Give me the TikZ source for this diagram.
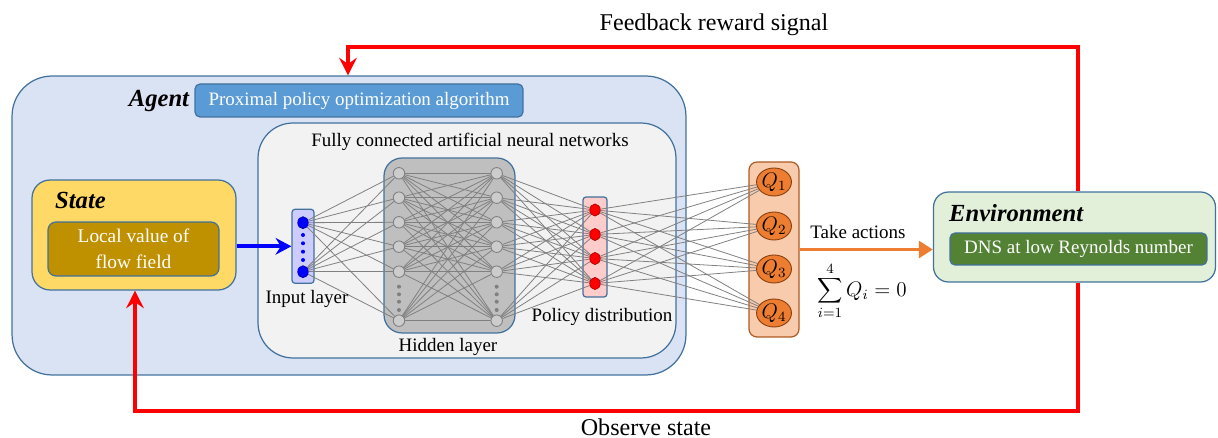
\documentclass[tikz,border=0pt]{standalone}
\usepackage{fontspec}
\setmainfont{Liberation Serif}
\usetikzlibrary{arrows.meta,shapes.geometric,calc}
\definecolor{agentfill}{HTML}{DAE3F3}
\definecolor{bordercol}{HTML}{41719C}
\definecolor{ppofill}{HTML}{5B9BD5}
\definecolor{nnfill}{HTML}{F2F2F2}
\definecolor{hidfill}{HTML}{BFBFBF}
\definecolor{hidnode}{HTML}{CCCCCC}
\definecolor{statefill}{HTML}{FFD966}
\definecolor{localfill}{HTML}{BF9000}
\definecolor{inputfill}{HTML}{CCCCFF}
\definecolor{policyfill}{HTML}{FFCCCC}
\definecolor{qboxfill}{HTML}{F8CBAD}
\definecolor{qboxdraw}{HTML}{AE5A21}
\definecolor{qnodefill}{HTML}{ED7D31}
\definecolor{qnodedraw}{HTML}{843C0C}
\definecolor{envfill}{HTML}{E2F0D9}
\definecolor{dnsfill}{HTML}{548235}
\definecolor{linkgray}{HTML}{808080}
\definecolor{arrowred}{HTML}{FF0000}
\definecolor{arrowblue}{HTML}{0000FF}
\pgfdeclarelayer{bg}
\pgfdeclarelayer{mid}
\pgfsetlayers{bg,mid,main}
\begin{document}
\begin{tikzpicture}[x=0.02cm,y=-0.02cm,
  every node/.style={font=\fontsize{10.8}{13}\selectfont},
  boxnode/.style={draw=bordercol, line width=0.7pt, inner sep=0pt},
  titletext/.style={font=\fontsize{14}{16}\selectfont\bfseries\itshape},
  bigtext/.style={font=\fontsize{13.7}{16}\selectfont},
  whitetext/.style={text=white, align=center},
  hidn/.style={circle, draw=linkgray, fill=hidnode, line width=0.5pt, minimum size=0.23cm, inner sep=0pt},
  inn/.style={ellipse, draw=arrowblue!70!black, fill=arrowblue, minimum width=0.21cm, minimum height=0.24cm, inner sep=0pt},
  poln/.style={ellipse, draw=red!70!black, fill=arrowred, minimum width=0.21cm, minimum height=0.24cm, inner sep=0pt},
  qn/.style={ellipse, draw=qnodedraw, fill=qnodefill, line width=0.5pt, minimum width=0.5cm, minimum height=0.56cm, inner sep=0pt, font=\fontsize{12}{14}\selectfont},
  smalldot/.style={circle, fill=#1, minimum size=0.08cm, inner sep=0pt},
  link/.style={draw=linkgray, line width=0.45pt},
  redarrow/.style={draw=arrowred, line width=2.2pt, -{Stealth[length=10pt,width=10pt,inset=3.5pt]}},
  bluearrow/.style={draw=arrowblue, line width=2.2pt, -{Stealth[length=9pt,width=9.5pt,inset=3pt]}},
  orangearrow/.style={draw=qnodefill, line width=2.2pt, -{Triangle[length=8pt,width=9.5pt]}}
]
\useasboundingbox (0,0) rectangle (1218,438);

% ---------- boxes ----------
\begin{pgfonlayer}{bg}
\node[boxnode, fill=agentfill, rounded corners=0.8cm, minimum width=13.48cm, minimum height=5.98cm] (agent) at (349,225.5) {};
\node[boxnode, fill=ppofill, rounded corners=0.1cm, minimum width=6.56cm, minimum height=0.66cm, whitetext] (ppo) at (359,100.5) {Proximal policy optimization algorithm};
\node[boxnode, fill=nnfill, rounded corners=0.7cm, minimum width=8.36cm, minimum height=4.7cm] (nn) at (467,240.5) {};
\node[boxnode, fill=statefill, rounded corners=0.36cm, minimum width=4.08cm, minimum height=2.2cm] (state) at (134,235) {};
\node[boxnode, fill=localfill, rounded corners=0.16cm, minimum width=3.42cm, minimum height=1.08cm, whitetext, font=\fontsize{11}{14.5}\selectfont] (local) at (133.5,249) {Local value of\\flow field};
\node[boxnode, fill=inputfill, rounded corners=0.06cm, minimum width=0.44cm, minimum height=1.48cm] (inbox) at (303,246.3) {};
\node[boxnode, fill=hidfill, rounded corners=0.36cm, minimum width=2.62cm, minimum height=3.5cm] (hidden) at (449.5,245.5) {};
\node[boxnode, fill=policyfill, rounded corners=0.06cm, minimum width=0.48cm, minimum height=2.0cm] (polbox) at (595,247) {};
\node[draw=qboxdraw, line width=0.7pt, inner sep=0pt, fill=qboxfill, rounded corners=0.16cm, minimum width=1.0cm, minimum height=3.5cm] (qbox) at (774,249.5) {};
\node[boxnode, fill=envfill, rounded corners=0.3cm, minimum width=5.64cm, minimum height=1.8cm] (env) at (1074.5,237) {};
\node[boxnode, fill=dnsfill, rounded corners=0.1cm, minimum width=5.14cm, minimum height=0.64cm, whitetext] (dns) at (1078.5,249) {DNS at low Reynolds number};
\end{pgfonlayer}

% ---------- titles and labels ----------
\node[titletext] (agentlbl) at (159,101) {Agent};
\node[titletext, anchor=west] (statelbl) at (49,200) {State};
\node[titletext, anchor=west] (envlbl) at (943,213) {Environment};
\node (nnlbl) at (470,142) {Fully connected artificial neural networks};
\node (inlbl) at (307,299) {Input layer};
\node (hidlbl) at (448,347) {Hidden layer};
\node (pollbl) at (602,317) {Policy distribution};
\node[inner sep=1pt] (takelbl) at (858,232) {Take actions};
\node[font=\fontsize{12}{14}\selectfont, inner sep=0pt] (sumlbl) at (862,291) {$\displaystyle\sum_{i=1}^{4} Q_i = 0$};
\node[bigtext] (fblbl) at (714,25) {Feedback reward signal};
\node[bigtext] (oblbl) at (646,427) {Observe state};

% ---------- neurons ----------
\node[inn] (in1) at (303,222.7) {};
\node[inn] (in2) at (303,271.7) {};
\foreach \y [count=\k] in {235,243.3,251.7,260}
  \node[smalldot=arrowblue] (ind\k) at (303,\y) {};

\foreach \y [count=\k] in {173.3,197.7,222.3,246.7,271.7,320.7} {
  \node[hidn] (ha\k) at (399,\y) {};
  \node[hidn] (hb\k) at (496.7,\y) {};
}
\foreach \y [count=\k] in {286.7,294.3,301.7,310} {
  \node[smalldot=linkgray] (hda\k) at (399,\y) {};
  \node[smalldot=linkgray] (hdb\k) at (496.7,\y) {};
}
\foreach \y [count=\k] in {210,234.5,258.5,283.5}
  \node[poln] (p\k) at (595,\y) {};
\foreach \y [count=\k] in {182,226,269,313}
  \node[qn] (q\k) at (774,\y) {$Q_{\k}$};

% ---------- links ----------
\begin{pgfonlayer}{mid}
\foreach \i in {1,2} \foreach \j in {1,...,6} \draw[link] (in\i) -- (ha\j);
\foreach \i in {1,...,6} \foreach \j in {1,...,6} \draw[link] (ha\i) -- (hb\j);
\foreach \i in {1,...,6} \foreach \j in {1,...,4} \draw[link] (hb\i) -- (p\j);
\foreach \i in {1,...,4} \foreach \j in {1,...,4} \draw[link] (p\i) -- (q\j);
\end{pgfonlayer}

% ---------- arrows ----------
\coordinate (fbr) at (1078,47);
\coordinate (fbl) at (348,47);
\coordinate (obr) at (1078,411);
\coordinate (obl) at (135,411);
\draw[redarrow] (env.north -| fbr) |- (fbl) -- (fbl |- agent.north);
\draw[redarrow] (env.south -| obr) |- (obl) -- (obl |- state.south);
\draw[bluearrow] (inbox.west -| state.east) -- (inbox.west);
\draw[orangearrow] (qbox.east) -- (qbox.east -| env.west);
\end{tikzpicture}
\end{document}
